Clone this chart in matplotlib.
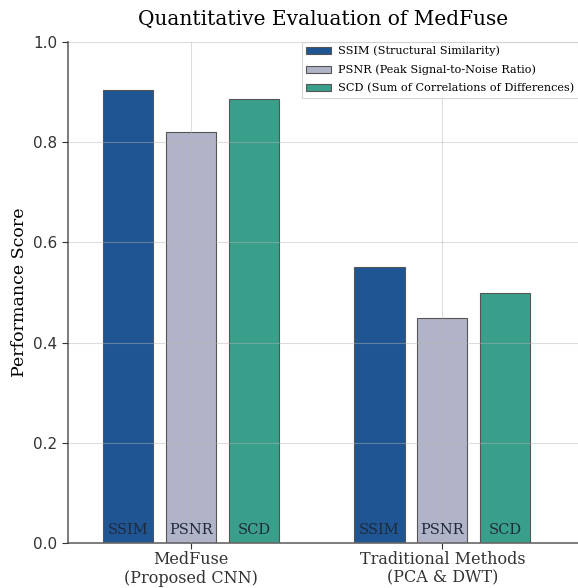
import numpy as np
import matplotlib
matplotlib.use("Agg")
import matplotlib.pyplot as plt

# data
groups = ["MedFuse\n(Proposed CNN)", "Traditional Methods\n(PCA & DWT)"]
metrics = ["SSIM", "PSNR", "SCD"]
legend_labels = ["SSIM (Structural Similarity)",
                 "PSNR (Peak Signal-to-Noise Ratio)",
                 "SCD (Sum of Correlations of Differences)"]
ssim = [0.905, 0.55]
psnr = [0.82, 0.45]
scd = [0.887, 0.50]
colors = ["#1f5592", "#b1b3c8", "#3a9f8a"]

fig = plt.figure(figsize=(5.78, 5.88), dpi=100)
ax = fig.add_axes([68/578, 1 - 543/588, 1 - 68/578, (543 - 42)/588])

x = np.arange(len(groups))
width = 0.2
for i, (vals, name) in enumerate(zip([ssim, psnr, scd], legend_labels)):
    pos = x + (i - 1) * 0.25
    ax.bar(pos, vals, width, color=colors[i], edgecolor="#555555", linewidth=0.8, label=name, zorder=2)
    for p in pos:
        ax.text(p, 0.025, metrics[i], ha="center", va="center", fontsize=10.5,
                family="DejaVu Serif", color="#1e2a3c", zorder=4)

ax.set_xlim(-0.49, 1.54)
ax.set_ylim(0, 1.0)
ax.set_xticks(x)
ax.set_xticklabels(groups, family="DejaVu Serif", fontsize=11.5, linespacing=1.1)
ax.set_yticks(np.arange(0, 1.01, 0.2))
ax.set_yticklabels([f"{v:.1f}" for v in np.arange(0, 1.01, 0.2)], fontsize=11)
ax.set_ylabel("Performance Score", family="DejaVu Serif", fontsize=12.5)
ax.set_title("Quantitative Evaluation of MedFuse", family="DejaVu Serif", fontsize=14.5, pad=12)

ax.grid(True, color="#b5b5b5", alpha=0.45, linewidth=0.8, zorder=3)
ax.set_axisbelow(False)
for s in ["top", "right"]:
    ax.spines[s].set_visible(False)
for s in ["left", "bottom"]:
    ax.spines[s].set_color("#666666")
    ax.spines[s].set_linewidth(1.2)
ax.tick_params(colors="#333333", length=4)
ax.tick_params(axis="x", pad=2)

leg = ax.legend(loc="upper left", bbox_to_anchor=(0.459, 1.0),
                prop={"family": "DejaVu Serif", "size": 8.1},
                frameon=True, shadow=False, fancybox=False, handlelength=2.2,
                handleheight=0.6, handletextpad=0.6, labelspacing=0.72,
                borderaxespad=0.0, borderpad=0.35)
leg.get_frame().set_edgecolor("#cccccc")
leg.get_frame().set_linewidth(0.8)

fig.savefig("out.png", dpi=100)
